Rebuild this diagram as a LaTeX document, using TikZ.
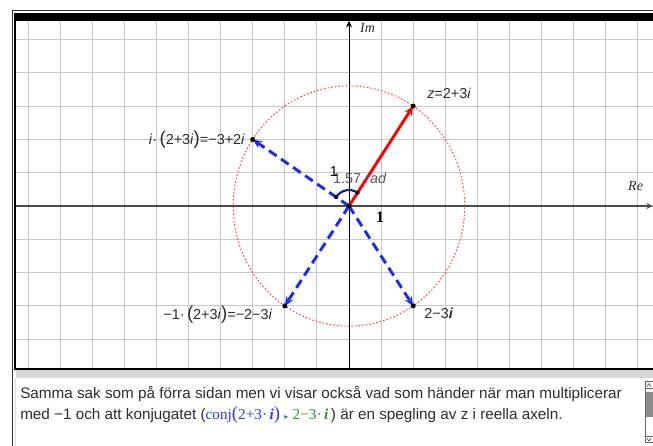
\documentclass[tikz,border=0pt]{standalone}
\usepackage{fontspec}
\setmainfont{Liberation Sans}
\newfontfamily\serifface{Liberation Serif}
\newfontfamily\symface{DejaVu Sans}
\usetikzlibrary{arrows.meta}
\definecolor{gridgray}{RGB}{200,200,200}
\definecolor{vecblue}{RGB}{25,45,240}
\definecolor{arcnavy}{RGB}{20,30,120}
\definecolor{conjblue}{RGB}{45,60,230}
\definecolor{resgreen}{RGB}{40,150,40}
\definecolor{txtgray}{RGB}{45,45,45}
\definecolor{circred}{RGB}{240,60,60}
\newcommand{\ivar}{\textit{i}}
\newcommand{\bigpar}[1]{{\fontsize{14}{14}\selectfont#1}}

\begin{document}
\begin{tikzpicture}[x=0.75pt,y=-0.75pt,
  lab/.style={inner sep=0pt,font=\fontsize{10.8}{12}\selectfont,text=txtgray},
  vec/.style={line width=2.2pt,-{Stealth[length=7pt,width=6pt]}},
  dot/.style={fill=black}]
\useasboundingbox (0,0) rectangle (653,446);
\fill[white] (0,0) rectangle (653,446);
\draw[black!80,line width=0.6pt] (12.3,446) -- (12.3,10.3) -- (653,10.3);
\draw[gridgray!60,line width=0.6pt] (15.8,378) -- (15.8,446);

\begin{scope}[shift={(261.75pt,-154.5pt)},x=24.075pt,y=24.975pt]
  \foreach \k in {-10,...,9}
    \draw[gridgray,line width=0.7pt] (\k,-4.86) -- (\k,5.56);
  \foreach \k in {-4,...,5}
    \draw[gridgray,line width=0.7pt] (-10.4,\k) -- (9.47,\k);
  \draw[black!70,line width=0.9pt,-{Stealth[length=5pt,width=4.5pt]}] (-10.4,0) -- (9.47,0);
  \draw[black,line width=0.7pt,-{Stealth[length=5pt,width=4.5pt]}] (0,-4.86) -- (0,5.56);
  \node[lab,anchor=west,font=\serifface\itshape\fontsize{10.5}{11}\selectfont] (imlab) at (0.34,5.35) {Im};
  \node[lab,anchor=west,font=\serifface\itshape\fontsize{10.5}{11}\selectfont] (relab) at (8.69,0.6) {Re};

  \coordinate (O) at (0,0);
  \coordinate (Z) at (2,3);
  \coordinate (Zi) at (-3,2);
  \coordinate (Zneg) at (-2,-3);
  \coordinate (Zbar) at (2,-3);
  \coordinate (Ta) at (146.31:0.48);
  \coordinate (Tb) at (56.31:0.48);

  \draw[circred,line width=0.7pt,dash pattern=on 1.2pt off 1.5pt] (O) circle[radius=3.606];
  \draw[vec,red] (O) -- (Z);
  \draw[vec,vecblue,dash pattern=on 7pt off 4pt] (O) -- (Zi);
  \draw[vec,vecblue,dash pattern=on 7pt off 4pt] (O) -- (Zneg);
  \draw[vec,vecblue,dash pattern=on 7pt off 4pt] (O) -- (Zbar);
  \draw[arcnavy,line width=1.6pt] (Ta) arc[start angle=146.31,end angle=56.31,radius=0.48];
  \foreach \p in {O,Z,Zi,Zneg,Zbar}
    \fill[dot] (\p) circle[radius=1.9pt];
  \foreach \p in {Ta,Tb}
    \fill[dot] (\p) circle[radius=1.6pt];

  \node[lab,anchor=west] (zlab) at (2.43,3.39) {\textit{z}=2+3\ivar};
  \node[lab,anchor=east] (zilab) at (-3.24,1.98) {\ivar·\,\bigpar{(}2+3\ivar\bigpar{)}=−3+2\ivar};
  \node[lab,anchor=west] (zneglab) at (-5.79,-3.27) {−1·\,\bigpar{(}2+3\ivar\bigpar{)}=−2−3\ivar};
  \node[lab,anchor=west] (zbarlab) at (2.34,-3.21) {2−3\textbf{\textit{i}}};
  \node[lab,anchor=west,text=black!65] (radlab) at (-0.50,0.84) {1.57 \textit{rad}};
  \node[lab,text=black] (onelab) at (-0.47,1.02) {1};
  \node[lab,text=black,font=\serifface\bfseries\fontsize{12}{12}\selectfont] (unitlab) at (0.97,-0.33) {1};
\end{scope}

\fill[black] (15,12.7) rectangle (653,20.7);
\draw[black,line width=1.2pt] (14.8,12.7) -- (14.8,369) -- (653,369);
\fill[gridgray!75] (15.5,369.6) rectangle (653,377.7);

\node[anchor=west,inner sep=0pt,text=txtgray,font=\fontsize{11.45}{12}\selectfont] (txta) at (20,394)
  {Samma sak som på förra sidan men vi visar också vad som händer när man multiplicerar};
\node[anchor=west,inner sep=0pt,text=txtgray,font=\fontsize{11.45}{12}\selectfont] (txtb) at (20,415)
  {med −1 och att konjugatet ({\color{conjblue}\serifface conj\bigpar{(}2+3·\,\textbf{\textit{i}}\bigpar{)}}
   {\color{resgreen}\symface\fontsize{6}{6}\selectfont ▸}
   {\color{resgreen}\serifface 2−3·\,\textbf{\textit{i}}}\,) är en spegling av z i reella axeln.};

\draw[black!60,line width=0.5pt] (645,381.7) rectangle (653,388.3);
\draw[black!60,line width=0.5pt] (645,388.3) -- (645,436.7);
\fill[black!45] (646,391.7) rectangle (653,416.7);
\draw[black!60,line width=0.5pt] (645,436.7) rectangle (653,442.3);
\draw[black!70,line width=0.5pt] (647,386.5) -- (649,383.5) -- (651,386.5);
\draw[black!70,line width=0.5pt] (647,438.3) -- (649,441) -- (651,438.3);
\end{tikzpicture}
\end{document}
